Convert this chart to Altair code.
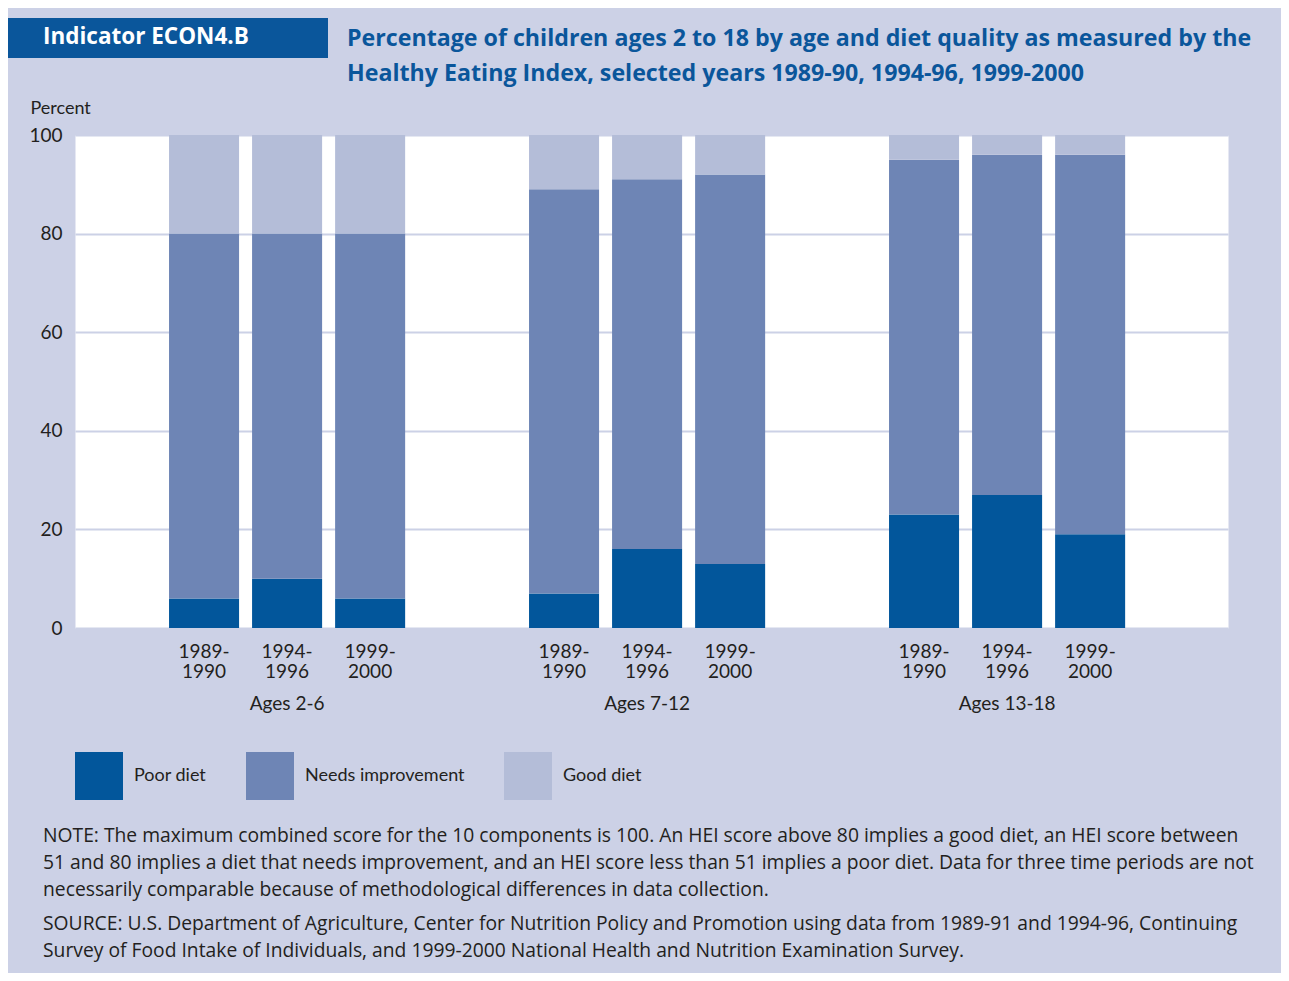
import altair as alt
import pandas as pd

ages = ["Ages 2-6", "Ages 7-12", "Ages 13-18"]
periods = ["1989-1990", "1994-1996", "1999-2000"]
period_top = ["1989-", "1994-", "1999-"]
period_bottom = ["1990", "1996", "2000"]
categories = ["Poor diet", "Needs improvement", "Good diet"]
# values in order: Ages 2-6 (3 periods), Ages 7-12, Ages 13-18
poor = [6, 10, 6, 7, 16, 13, 23, 27, 19]
needs = [74, 70, 74, 82, 75, 79, 72, 69, 77]
good = [20, 20, 20, 11, 9, 8, 5, 4, 4]
colors = ["#02569b", "#6e85b5", "#b4bdd8"]

title_lines = [
    "Percentage of children ages 2 to 18 by age and diet quality as measured by the",
    "Healthy Eating Index, selected years 1989-90, 1994-96, 1999-2000",
]
indicator = "Indicator ECON4.B"
note_lines = [
    "NOTE: The maximum combined score for the 10 components is 100. An HEI score above 80 implies a good diet, an HEI score between",
    "51 and 80 implies a diet that needs improvement, and an HEI score less than 51 implies a poor diet. Data for three time periods are not",
    "necessarily comparable because of methodological differences in data collection.",
]
source_lines = [
    "SOURCE: U.S. Department of Agriculture, Center for Nutrition Policy and Promotion using data from 1989-91 and 1994-96, Continuing",
    "Survey of Food Intake of Individuals, and 1999-2000 National Health and Nutrition Examination Survey.",
]

FONT = "Lato"
FONT2 = "Open Sans"
TXT = "#231f20"
BG = "#ccd1e6"
BLUE = "#0a569b"

rows = []
for i, age in enumerate(ages):
    for j, per in enumerate(periods):
        k = i * 3 + j
        for c, (cat, vals) in enumerate(zip(categories, [poor, needs, good])):
            rows.append({"age": age, "period": per, "category": cat, "ord": c, "value": vals[k]})
df = pd.DataFrame(rows)
lab = pd.DataFrame(
    [
        {"age": a, "period": p, "top": t, "bottom": b}
        for a in ages
        for p, t, b in zip(periods, period_top, period_bottom)
    ]
)
one = pd.DataFrame({"a": [0]})

x_enc = alt.X(
    "age:N",
    sort=ages,
    scale=alt.Scale(paddingInner=0.308, paddingOuter=0.2554, align=0.476),
    axis=alt.Axis(
        title=None, domain=False, ticks=False, labelAngle=0, labelPadding=81,
        labelBaseline="alphabetic", labelFontSize=19, labelColor=TXT, labelFont=FONT,
    ),
)
xo_enc = alt.XOffset(
    "period:N", sort=periods, scale=alt.Scale(paddingInner=0.1566, paddingOuter=0.0783)
)

bars = alt.Chart(df).mark_bar().encode(
    x=x_enc,
    xOffset=xo_enc,
    y=alt.Y(
        "value:Q",
        stack="zero",
        scale=alt.Scale(domain=[0, 100], nice=False),
        axis=alt.Axis(
            values=[0, 20, 40, 60, 80, 100], title="Percent", titleAngle=0,
            titleAlign="left", titleBaseline="alphabetic", titleX=-45, titleY=-22,
            titleFontSize=18, titleFontWeight="normal", titleColor=TXT, titleFont=FONT,
            domain=False, ticks=False, grid=True, gridColor=BG, gridWidth=2,
            labelPadding=13, labelFontSize=19, labelColor=TXT, labelFont=FONT,
        ),
    ),
    color=alt.Color(
        "category:N",
        sort=categories,
        scale=alt.Scale(domain=categories, range=colors),
        title=None,
        legend=alt.Legend(
            orient="none", legendX=0, legendY=617, direction="horizontal",
            symbolType="square", symbolSize=2304, symbolStrokeWidth=0, symbolOpacity=1,
            labelFontSize=18, labelFont=FONT, labelColor=TXT, labelOffset=11,
            columnPadding=39, padding=0, labelLimit=400,
        ),
    ),
    order=alt.Order("ord:Q", sort="ascending"),
)

year_top = alt.Chart(lab).mark_text(
    baseline="alphabetic", fontSize=19, font=FONT, color=TXT
).encode(x=x_enc, xOffset=xo_enc, y=alt.value(523), text="top:N")
year_bottom = alt.Chart(lab).mark_text(
    baseline="alphabetic", fontSize=19, font=FONT, color=TXT
).encode(x=x_enc, xOffset=xo_enc, y=alt.value(543), text="bottom:N")

box = alt.Chart(one).mark_rect(color=BLUE).encode(
    x=alt.value(-67), x2=alt.value(253), y=alt.value(-117), y2=alt.value(-77)
)
ind_text = alt.Chart(one).mark_text(
    text=indicator, align="left", baseline="alphabetic", fontSize=22.5, fontWeight="bold",
    font=FONT2, color="white",
).encode(x=alt.value(-32), y=alt.value(-91))
title_text = alt.Chart(one).mark_text(
    text=title_lines, align="left", baseline="alphabetic", fontSize=23.2, fontWeight="bold",
    font=FONT2, color=BLUE, lineHeight=35,
).encode(x=alt.value(272), y=alt.value(-89))
note_text = alt.Chart(one).mark_text(
    text=note_lines, align="left", baseline="alphabetic", fontSize=19.3, font=FONT2,
    color=TXT, lineHeight=27,
).encode(x=alt.value(-32), y=alt.value(707))
source_text = alt.Chart(one).mark_text(
    text=source_lines, align="left", baseline="alphabetic", fontSize=19.3, font=FONT2,
    color=TXT, lineHeight=27,
).encode(x=alt.value(-32), y=alt.value(795))

chart = alt.layer(
    bars, year_top, year_bottom, box, ind_text, title_text, note_text, source_text
).properties(
    width=1153,
    height=493,
    autosize=alt.AutoSizeParams(type="none"),
    padding={"left": 67, "top": 127, "right": 53, "bottom": 345},
).configure(background=BG).configure_view(fill="white", stroke="transparent")

chart.save("out.html", embed_options={"renderer": "svg", "actions": False})
